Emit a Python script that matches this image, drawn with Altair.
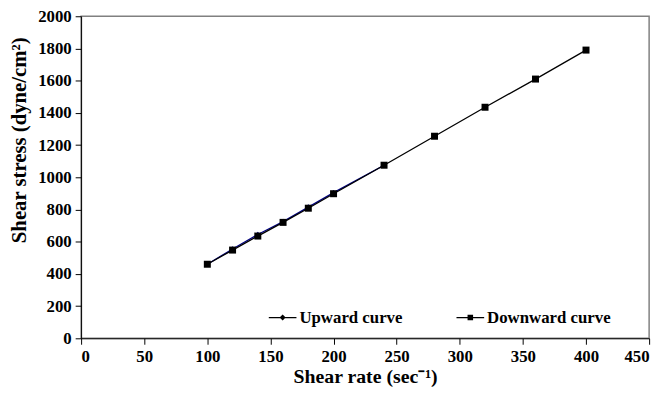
import altair as alt
import pandas as pd

up_x = [100, 120, 140, 160, 180, 200, 240]
up_y = [460, 555, 645, 725, 815, 905, 1075]
down_x = [100, 120, 140, 160, 180, 200, 240, 280, 320, 360, 400]
down_y = [460, 548, 635, 720, 808, 898, 1075, 1255, 1435, 1610, 1790]
series = ["Upward curve", "Downward curve"]
colors = ["#000080", "#000000"]

df = pd.DataFrame(
    [{"rate": x, "stress": y, "series": series[0], "order": i} for i, (x, y) in enumerate(zip(up_x, up_y))]
    + [{"rate": x, "stress": y, "series": series[1], "order": i} for i, (x, y) in enumerate(zip(down_x, down_y))]
)

FONT = "Liberation Serif"

xenc = alt.X("rate:Q", scale=alt.Scale(domain=[0, 450], nice=False),
             axis=alt.Axis(values=list(range(0, 451, 50)), title="Shear rate (sec⁻¹)",
                           format="d", grid=False, titlePadding=3, titleFontSize=20))
yenc = alt.Y("stress:Q", scale=alt.Scale(domain=[0, 2000], nice=False),
             axis=alt.Axis(values=list(range(0, 2001, 200)), title="Shear stress (dyne/cm²)",
                           format="d", grid=False, titlePadding=8, titleY=125))
cscale = alt.Scale(domain=series, range=colors)

lines = alt.Chart(df).mark_line(strokeWidth=1.3).encode(
    x=xenc, y=yenc,
    color=alt.Color("series:N", scale=cscale, legend=None),
    detail="series:N", order="order:Q",
)

points = alt.Chart(df).mark_point(filled=True, opacity=1).encode(
    x=xenc, y=yenc,
    color=alt.Color("series:N", scale=cscale, legend=None),
    shape=alt.Shape("series:N", scale=alt.Scale(domain=series, range=["diamond", "square"]), legend=None),
    size=alt.Size("series:N", scale=alt.Scale(domain=series, range=[30, 50]), legend=None),
)

legend_paths = [
    "M-1,-0.045H1V0.045H-1ZM0,-0.22L0.22,0L0,0.22L-0.22,0Z",
    "M-1,-0.045H1V0.045H-1ZM-0.2,-0.2H0.2V0.2H-0.2Z",
]
leg = alt.Legend(
    title=None, orient="none", direction="horizontal", legendX=190, legendY=291,
    symbolSize=784, symbolStrokeWidth=0, labelFont=FONT, labelFontSize=17,
    labelFontWeight="bold", labelColor="black", labelOffset=3, columnPadding=54,
)
legend_layer = alt.Chart(df).transform_filter("false").mark_point(filled=True, opacity=1).encode(
    x=xenc, y=yenc,
    color=alt.Color("series:N", scale=cscale, legend=leg),
    shape=alt.Shape("series:N", scale=alt.Scale(domain=series, range=legend_paths), legend=leg),
)

chart = alt.layer(lines, points, legend_layer).resolve_scale(
    shape="independent"
).properties(
    width=575, height=326,
    padding={"left": 74, "top": 6, "right": 10, "bottom": 54},
    autosize=alt.AutoSizeParams(type="none"),
).configure_view(
    stroke="#808080", strokeWidth=1.5
).configure_axis(
    labelFont=FONT, labelFontSize=17, labelFontWeight="bold", labelColor="black",
    titleFont=FONT, titleFontSize=21, titleFontWeight="bold", titleColor="black",
    domainColor="black", tickColor="black", tickSize=6, labelPadding=4,
)

chart.save("out.html", embed_options={"renderer": "svg", "actions": False})
